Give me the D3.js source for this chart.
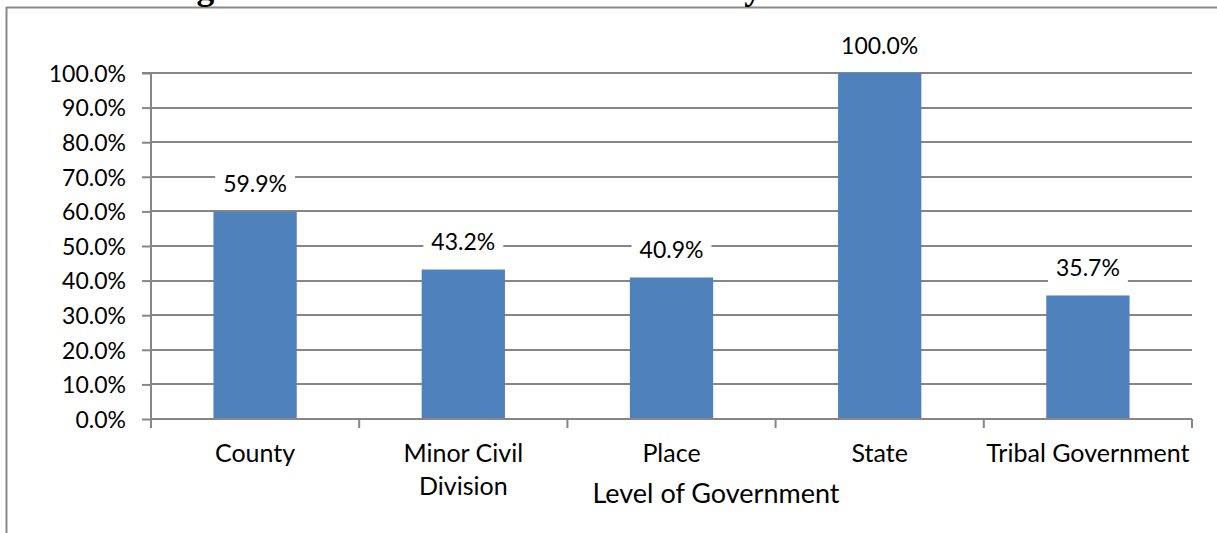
<!DOCTYPE html>
<html>
<head>
<meta charset="utf-8">
<script src="https://cdn.jsdelivr.net/npm/d3@7"></script>
<style>
  html, body { margin: 0; padding: 0; background: #fff; }
  svg { display: block; }
</style>
</head>
<body>
<svg id="chart" width="1217" height="533"></svg>
<script>
// ---- data ----
const categories = ["County", "Minor Civil Division", "Place", "State", "Tribal Government"];
const categoryLines = [["County"], ["Minor Civil", "Division"], ["Place"], ["State"], ["Tribal Government"]];
const values = [0.599, 0.432, 0.409, 1.000, 0.357];
const yTicks = [0, 0.1, 0.2, 0.3, 0.4, 0.5, 0.6, 0.7, 0.8, 0.9, 1.0];
const titleText = "Figure 6: Data Base of Coordination by Level of Government";
const xAxisTitle = "Level of Government";

// ---- layout ----
const svg = d3.select("#chart");
const plot = { left: 151, right: 1192, top: 73, bottom: 419 };
const gridColor = "#868686";
const barColor = "#4F81BD";
const font = "Lato, 'Open Sans', sans-serif";

const x = d3.scaleBand().domain(categories).range([plot.left, plot.right]).padding(0);
const y = d3.scaleLinear().domain([0, 1]).range([plot.bottom, plot.top]);
const fmt = d3.format(".1%");

// frame (outer chart border, partially visible)
svg.append("line").attr("x1", 6).attr("x2", 1217).attr("y1", 7.5).attr("y2", 7.5)
  .attr("stroke", "#8a8a8a").attr("stroke-width", 2);
svg.append("line").attr("x1", 6.5).attr("x2", 6.5).attr("y1", 7).attr("y2", 533)
  .attr("stroke", "#8a8a8a").attr("stroke-width", 2);

// clipped title above the frame
svg.append("text").attr("x", 165).attr("y", -1)
  .attr("font-family", "'Liberation Serif', 'Times New Roman', serif")
  .attr("font-weight", "bold").attr("font-size", 35.5).attr("fill", "#000")
  .text(titleText);

// gridlines
svg.append("g").selectAll("line").data(yTicks.filter(d => d > 0)).join("line")
  .attr("x1", plot.left).attr("x2", plot.right)
  .attr("y1", d => Math.round(y(d))).attr("y2", d => Math.round(y(d)))
  .attr("stroke", gridColor).attr("stroke-width", 2);

// y axis
const yAxis = d3.axisLeft(y).tickValues(yTicks).tickFormat(fmt).tickSize(9).tickPadding(16);
const gy = svg.append("g").attr("transform", `translate(${plot.left},0)`).call(yAxis);
gy.select(".domain").attr("stroke", gridColor).attr("stroke-width", 2)
  .attr("d", `M-9,${plot.top}H0V${plot.bottom + 9}`);
gy.selectAll(".tick line").attr("stroke", gridColor).attr("stroke-width", 2);
gy.selectAll(".tick text").attr("font-family", font).attr("font-size", 23).attr("fill", "#000")
  .attr("dy", "0.36em");

// bars
const barW = x.bandwidth() * 0.4;
svg.append("g").selectAll("rect").data(categories).join("rect")
  .attr("x", (d) => x(d) + (x.bandwidth() - barW) / 2)
  .attr("width", barW)
  .attr("y", (d, i) => y(values[i]))
  .attr("height", (d, i) => y(0) - y(values[i]))
  .attr("fill", barColor);

// x axis
const xAxis = d3.axisBottom(x).tickSize(0).tickFormat("");
const gx = svg.append("g").attr("transform", `translate(0,${plot.bottom})`).call(xAxis);
gx.select(".domain").attr("stroke", gridColor).attr("stroke-width", 2)
  .attr("d", `M${plot.left},0H${plot.right}`);
const edges = categories.map(c => x(c)).concat([plot.right]);
gx.selectAll(".edge").data(edges).join("line").attr("class", "edge")
  .attr("x1", d => d).attr("x2", d => d).attr("y1", 0).attr("y2", 9)
  .attr("stroke", gridColor).attr("stroke-width", 2);

// category labels
const lbl = svg.append("g");
categories.forEach((c, i) => {
  const t = lbl.append("text").attr("text-anchor", "middle")
    .attr("font-family", font).attr("font-size", 25).attr("fill", "#000");
  categoryLines[i].forEach((line, j) => {
    t.append("tspan").attr("x", x(c) + x.bandwidth() / 2).attr("y", 462 + j * 33).text(line);
  });
});

// data labels with white background
const dl = svg.append("g");
categories.forEach((c, i) => {
  const g = dl.append("g");
  const t = g.append("text").attr("text-anchor", "middle")
    .attr("x", x(c) + x.bandwidth() / 2).attr("y", y(values[i]) - 19.5)
    .attr("font-family", font).attr("font-size", 23).attr("fill", "#000")
    .text(fmt(values[i]));
  const bb = t.node().getBBox();
  g.insert("rect", "text").attr("x", bb.x - 8).attr("y", bb.y - 2)
    .attr("width", bb.width + 16).attr("height", bb.height + 4).attr("fill", "#fff");
});

// axis title
svg.append("text").attr("x", 716).attr("y", 503).attr("text-anchor", "middle")
  .attr("font-family", font).attr("font-size", 27).attr("fill", "#000")
  .text(xAxisTitle);
</script>
</body>
</html>
